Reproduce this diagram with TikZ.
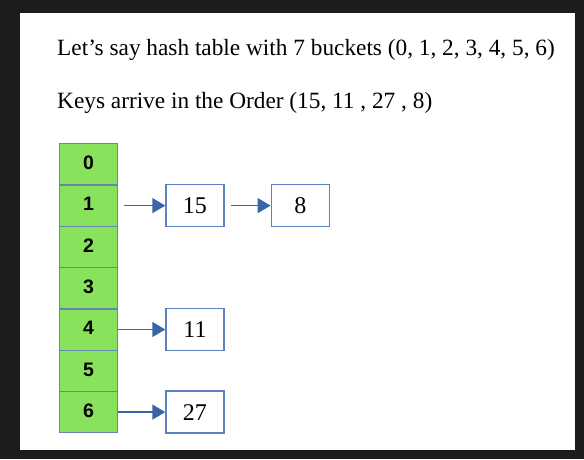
\documentclass[tikz,border=0pt]{standalone}
\usepackage{fontspec}
\setmainfont{Liberation Serif}
\newfontfamily\cellfont{Liberation Sans}
\usetikzlibrary{positioning, arrows.meta}
\definecolor{framegray}{RGB}{27,28,30}
\definecolor{cellgreen}{RGB}{137,226,92}
\definecolor{cellline}{RGB}{104,132,180}
\definecolor{boxline}{RGB}{92,130,194}
\definecolor{arrowblue}{RGB}{56,100,168}

\begin{document}
\begin{tikzpicture}[
		x=1pt, y=-1pt,
		cell/.style={draw=cellline, fill=cellgreen, line width=1.3pt, anchor=north west,
			minimum width=58pt, minimum height=41.3pt, inner sep=0pt,
			font=\cellfont\fontsize{19.5}{19.5}\selectfont\bfseries},
		keybox/.style={draw=boxline, fill=white, line width=1.3pt,
			minimum width=58pt, minimum height=42pt, inner sep=0pt,
			font=\fontsize{24}{24}\selectfont},
		arrow/.style={-{Triangle[length=13pt, width=15pt]}, draw=arrowblue, fill=arrowblue, line width=1.4pt},
		note/.style={anchor=base west, inner sep=0pt, font=\fontsize{23.3}{23.3}\selectfont}
		]
		
		% FRAME
		\fill[framegray] (0,0) rectangle (584,459);
		\fill[white] (20,13) rectangle (575,450);
		
		% TEXT
		\node[note] (intro) at (57,55) {Let’s say hash table with 7 buckets (0, 1, 2, 3, 4, 5, 6)};
		\node[note] (order) at (57,108) {Keys arrive in the Order (15, 11 , 27 , 8)};
		
		% BUCKETS
		\foreach \i in {0,...,6}
		\node[cell] (b\i) at (59, 143+41.3*\i) {\raisebox{3pt}{\i}};
		
		% KEYS
		\node[keybox, right=47pt of b1] (k15) {15};
		\node[keybox, right=46pt of k15] (k8) {8};
		\node[keybox, right=47pt of b4] (k11) {11};
		\node[keybox, right=47pt of b6] (k27) {27};
		
		% CONNECTIONS
		\draw[arrow, shorten <=6pt] (b1) -- (k15);
		\draw[arrow, shorten <=6pt] (k15) -- (k8);
		\draw[arrow] (b4) -- (k11);
		\draw[arrow] (b6) -- (k27);
		
	\end{tikzpicture}
\end{document}
